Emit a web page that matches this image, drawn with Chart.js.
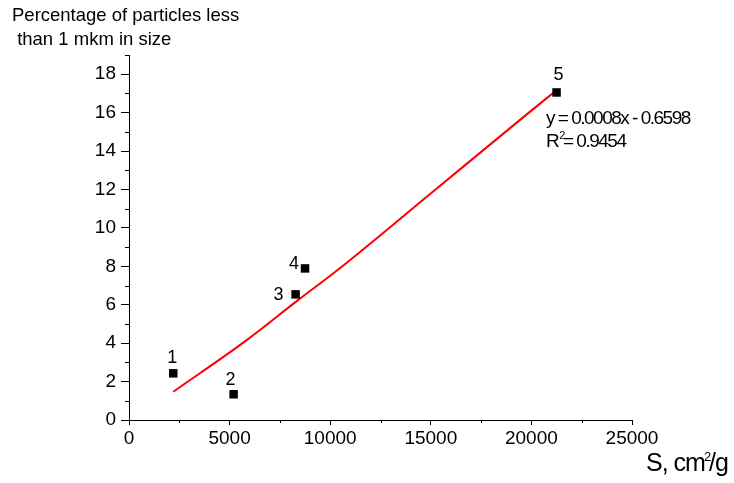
<!DOCTYPE html>
<html>
<head>
<meta charset="utf-8">
<script src="https://cdn.jsdelivr.net/npm/chart.js@4/dist/chart.umd.min.js"></script>
<style>
  html, body { margin: 0; padding: 0; background: #fff; }
  #wrap { width: 734px; height: 483px; }
</style>
</head>
<body>
<div id="wrap"><canvas id="chart" width="734" height="483"></canvas></div>
<script>
// measured samples (S, cm2/g vs % of particles < 1 mkm)
const sampleNames = ["1", "2", "3", "4", "5"];
const surfaceArea = [2200, 5200, 8280, 8750, 21250];
const fineShare = [2.43, 1.34, 6.54, 7.89, 17.05];

// red trend curve
const trendX = [2200, 5850, 8400, 10480, 14950, 19420, 21250];
const trendY = [1.47, 4.16, 6.24, 7.9, 11.75, 15.61, 17.17];

const xTickValues = [0, 5000, 10000, 15000, 20000, 25000];
const yTickValues = [0, 2, 4, 6, 8, 10, 12, 14, 16, 18];
const xMinorValues = [2500, 7500, 12500, 17500, 22500];
const yMinorValues = [1, 3, 5, 7, 9, 11, 13, 15, 17, 19];

const equationText = "y = 0.0008x - 0.6598";
const rSquaredText = "0.9454";

const FONT = "'Liberation Sans', Arial, sans-serif";

const extrasPlugin = {
  id: "extras",
  afterDraw(chart) {
    const ctx = chart.ctx;
    const xs = chart.scales.x;
    const ys = chart.scales.y;
    ctx.save();
    ctx.strokeStyle = "#000";
    ctx.lineWidth = 1;

    // minor ticks
    ctx.beginPath();
    xMinorValues.forEach(v => {
      const px = Math.round(xs.getPixelForValue(v)) + 0.5;
      ctx.moveTo(px, ys.bottom);
      ctx.lineTo(px, ys.bottom + 3);
    });
    yMinorValues.forEach(v => {
      const py = Math.round(ys.getPixelForValue(v)) + 0.5;
      ctx.moveTo(xs.left, py);
      ctx.lineTo(xs.left - 4, py);
    });
    ctx.stroke();

    // sample numbers next to points
    const offsets = [[-1, -15], [-3, -14], [-17, 1], [-11, -4], [2, -17]];
    ctx.fillStyle = "#000";
    ctx.font = "18px " + FONT;
    ctx.textAlign = "center";
    ctx.textBaseline = "middle";
    sampleNames.forEach((name, i) => {
      const px = xs.getPixelForValue(surfaceArea[i]);
      const py = ys.getPixelForValue(fineShare[i]);
      ctx.fillText(name, px + offsets[i][0], py + offsets[i][1]);
    });

    // axis titles
    ctx.textAlign = "left";
    ctx.textBaseline = "alphabetic";
    ctx.font = "18.5px " + FONT;
    ctx.fillText("Percentage of particles less", 12, 21);
    ctx.fillText(" than 1 mkm in size", 12, 45);

    ctx.letterSpacing = "-1px";
    ctx.font = "25px " + FONT;
    let tx = 646;
    ctx.fillText("S, cm", tx, 471);
    tx += ctx.measureText("S, cm").width;
    ctx.font = "13px " + FONT;
    ctx.fillText("2", tx - 1, 461);
    tx += ctx.measureText("2").width - 2;
    ctx.font = "25px " + FONT;
    ctx.fillText("/g", tx, 471);

    // regression equation
    ctx.letterSpacing = "-1.5px";
    ctx.font = "19px " + FONT;
    ctx.fillText(equationText, 546, 124);
    ctx.fillText("R", 546, 147);
    let rx = 546 + ctx.measureText("R").width;
    ctx.font = "11px " + FONT;
    ctx.fillText("2", rx + 1, 139);
    ctx.font = "19px " + FONT;
    ctx.fillText(" = " + rSquaredText, rx + 1, 147);

    ctx.restore();
  }
};

new Chart(document.getElementById("chart"), {
  type: "scatter",
  data: {
    datasets: [
      {
        type: "line",
        label: "trend",
        data: trendX.map((x, i) => ({ x: x, y: trendY[i] })),
        borderColor: "#ff0000",
        borderWidth: 2,
        pointRadius: 0,
        fill: false,
        cubicInterpolationMode: "monotone",
        order: 2
      },
      {
        label: "samples",
        data: surfaceArea.map((x, i) => ({ x: x, y: fineShare[i] })),
        pointStyle: "rect",
        pointRadius: 6,
        backgroundColor: "#000",
        borderColor: "#000",
        borderWidth: 0,
        order: 1
      }
    ]
  },
  options: {
    responsive: false,
    animation: false,
    layout: { padding: { top: 55, right: 102, left: 0, bottom: 0 } },
    plugins: {
      legend: { display: false },
      tooltip: { enabled: false }
    },
    scales: {
      x: {
        type: "linear",
        min: 0,
        max: 25000,
        afterFit: scale => { scale.height = 63; },
        afterBuildTicks: scale => { scale.ticks = xTickValues.map(v => ({ value: v })); },
        grid: { drawOnChartArea: false, tickLength: 5, color: "#000", tickColor: "#000" },
        border: { color: "#000", width: 1 },
        ticks: {
          color: "#000",
          padding: 2,
          maxRotation: 0,
          font: { family: FONT, size: 19 },
          callback: v => String(v)
        }
      },
      y: {
        type: "linear",
        min: 0,
        max: 19,
        afterFit: scale => { scale.width = 129; },
        afterBuildTicks: scale => { scale.ticks = yTickValues.map(v => ({ value: v })); },
        grid: { drawOnChartArea: false, tickLength: 8, color: "#000", tickColor: "#000" },
        border: { color: "#000", width: 1 },
        ticks: {
          color: "#000",
          padding: 5,
          font: { family: FONT, size: 19 },
          callback: v => String(v)
        }
      }
    }
  },
  plugins: [extrasPlugin]
});
</script>
</body>
</html>
